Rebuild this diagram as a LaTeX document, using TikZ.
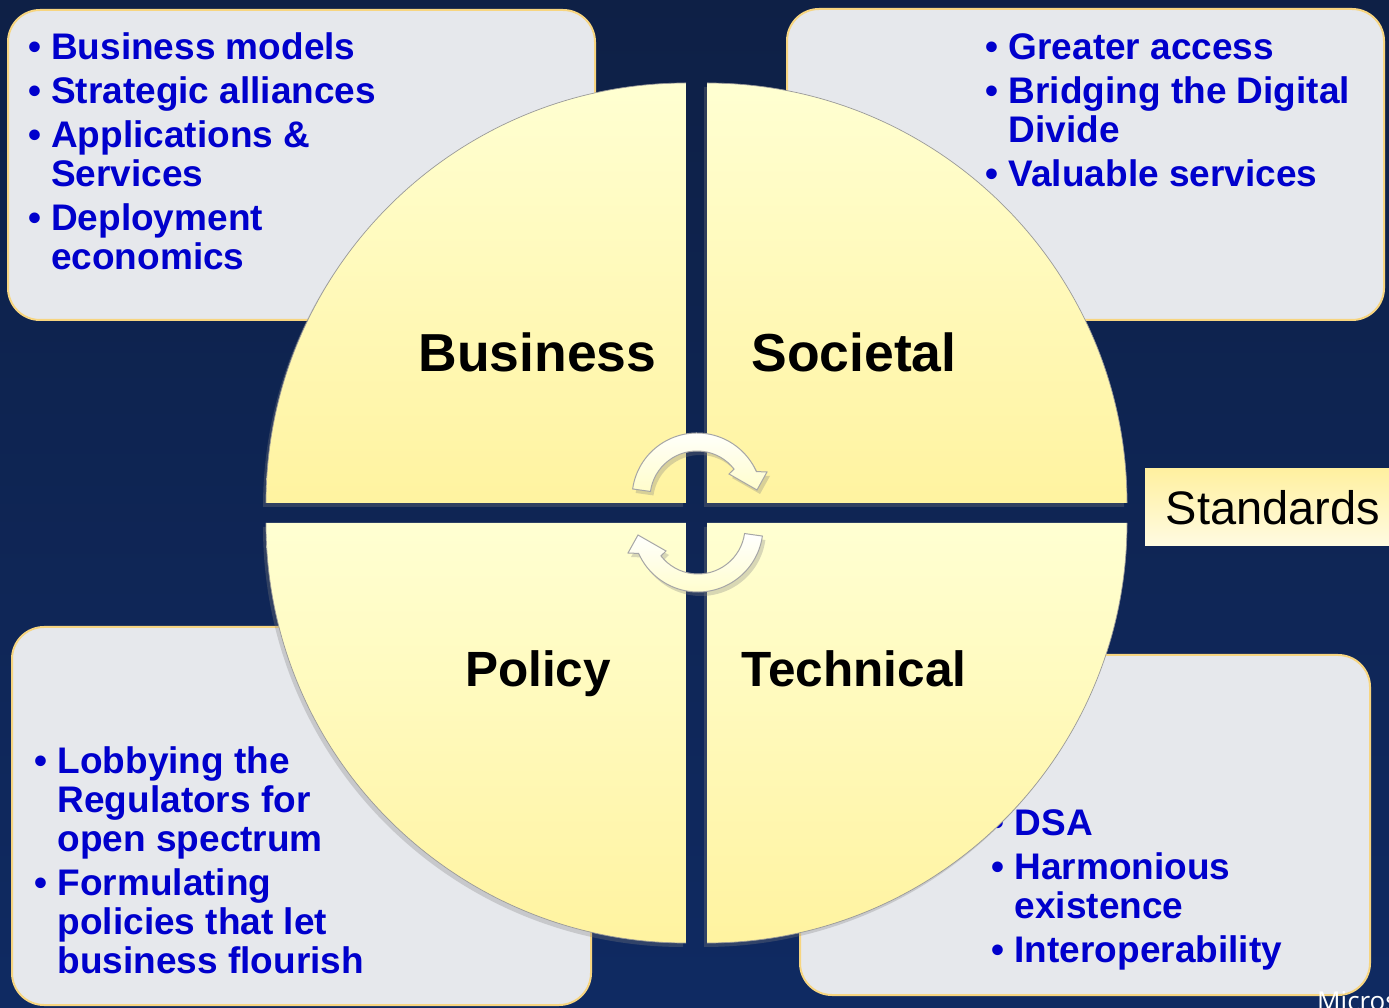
\documentclass[tikz,border=0pt]{standalone}
\usepackage{fontspec}
\setmainfont{Liberation Sans}
\newfontfamily\brandfont{Open Sans}
\usetikzlibrary{shadows}
\definecolor{navytop}{HTML}{0E2046}
\definecolor{navybot}{HTML}{0F2A62}
\definecolor{boxgray}{HTML}{E6E8EC}
\definecolor{boxedge}{HTML}{F7D580}
\definecolor{itemblue}{HTML}{0000CC}
\definecolor{quadlight}{HTML}{FFFFD2}
\definecolor{quadyellow}{HTML}{FFF3A0}
\definecolor{stdtop}{HTML}{FFF0A0}
\definecolor{stdbot}{HTML}{FFFBE2}
\tikzstyle{infobox} = [draw=boxedge, line width=2pt, fill=boxgray, rounded corners=32pt]
\tikzstyle{itemlist} = [font=\fontsize{37}{39}\selectfont\bfseries, text=itemblue, inner sep=0pt, anchor=north west]
\tikzstyle{quadfill} = [top color=quadlight, bottom color=quadyellow, drop shadow={shadow xshift=-3pt, shadow yshift=-4pt, opacity=0.3}]
\tikzstyle{quadedge} = [draw=gray!80, line width=0.7pt]
\tikzstyle{quadlabel} = [font=\fontsize{53.5}{60}\selectfont\bfseries, text=black, inner sep=0pt, anchor=base]
\tikzstyle{cyclearrow} = [top color=white, bottom color=quadlight!85!quadyellow, draw=gray!70, line width=1pt, drop shadow={shadow xshift=3pt, shadow yshift=-4pt, opacity=0.3}]
\newcommand{\bul}{\makebox[23pt][l]{\textbullet}}
\newcommand{\cyclepath}{(172:47) -- (172:65) arc[start angle=172, end angle=24, radius=65] -- (70,26) -- (60,8) -- (32,24) -- (38:47) arc[start angle=38, end angle=172, radius=47] -- cycle}

\begin{document}
\begin{tikzpicture}[x=1pt, y=1pt]
      \useasboundingbox (0,0) rectangle (1389,1007);
      \clip (0,0) rectangle (1389,1007);
      % background
      \shade [top color=navytop, bottom color=navybot] (0,0) rectangle (1389,1007);

      % text boxes
      \draw [infobox] (8,687) rectangle (595,997);
      \draw [infobox] (787,687) rectangle (1384,998);
      \draw [infobox] (12,2) rectangle (591,380);
      \draw [infobox] (800,12) rectangle (1370,352);

      \node (bizlist) [itemlist] at (28,975) {\begin{tabular}{@{}l@{}l@{}}
        \bul & Business models\\[5pt]
        \bul & Strategic alliances\\[5pt]
        \bul & Applications \&\\
             & Services\\[5pt]
        \bul & Deployment\\
             & economics
      \end{tabular}};
      \node (soclist) [itemlist] at (985.5,975) {\begin{tabular}{@{}l@{}l@{}}
        \bul & Greater access\\[5pt]
        \bul & Bridging the Digital\\
             & Divide\\[5pt]
        \bul & Valuable services
      \end{tabular}};
      \node (pollist) [itemlist] at (34.5,261) {\begin{tabular}{@{}l@{}l@{}}
        \bul & Lobbying the\\
             & Regulators for\\
             & open spectrum\\[5pt]
        \bul & Formulating\\
             & policies that let\\
             & business flourish
      \end{tabular}};
      \node (teclist) [itemlist] at (991.5,199) {\begin{tabular}{@{}l@{}l@{}}
        \bul & DSA\\[5pt]
        \bul & Harmonious\\
             & existence\\[5pt]
        \bul & Interoperability
      \end{tabular}};

      % quadrants
      \path [quadfill] (686,504) -- (266,504) arc[start angle=180, end angle=90, radius=420] -- cycle;
      \path [quadfill] (707,504) -- (707,924) arc[start angle=90, end angle=0, radius=420] -- cycle;
      \path [quadfill] (686,484) -- (686,64) arc[start angle=270, end angle=180, radius=420] -- cycle;
      \path [quadfill] (707,484) -- (1127,484) arc[start angle=0, end angle=-90, radius=420] -- cycle;
      \draw [quadedge] (266,504) arc[start angle=180, end angle=90, radius=420];
      \draw [quadedge] (707,924) arc[start angle=90, end angle=0, radius=420];
      \draw [quadedge] (686,64) arc[start angle=270, end angle=180, radius=420];
      \draw [quadedge] (1127,484) arc[start angle=0, end angle=-90, radius=420];

      \node (business) [quadlabel] at (537.5,635) {Business};
      \node (societal) [quadlabel] at (854,635) {Societal};
      \node (policy) [quadlabel, font=\fontsize{49.5}{56}\selectfont\bfseries] at (538,320) {Policy};
      \node (technical) [quadlabel, font=\fontsize{49.5}{56}\selectfont\bfseries] at (854,320) {Technical};

      % cycle arrows
      \begin{scope}[shift={(697.5,494.5)}]
        \path [cyclearrow, shift={(-0.5,14.5)}] \cyclepath;
      \end{scope}
      \begin{scope}[shift={(697.5,494.5)}, rotate=180]
        \path [cyclearrow, shift={(-0.5,14.5)}] \cyclepath;
      \end{scope}

      % standards
      \shade [top color=stdtop, bottom color=stdbot] (1145,461) rectangle (1400,538);
      \node (standards) [font=\fontsize{47}{52}\selectfont, inner sep=0pt, anchor=base] at (1273,482) {Standards};

      \node (brand) [font=\brandfont\fontsize{26}{30}\selectfont, text=white, inner sep=0pt, anchor=base west] at (1317,-3) {Micros};
    \end{tikzpicture}
\end{document}
